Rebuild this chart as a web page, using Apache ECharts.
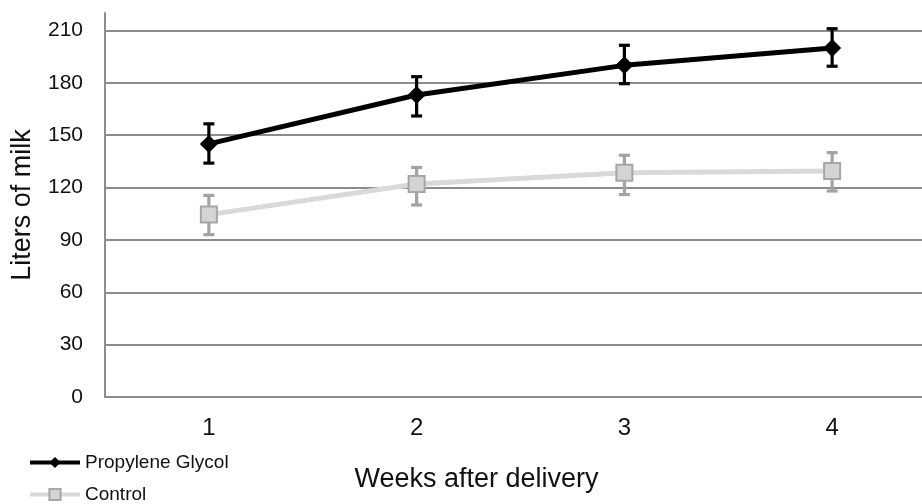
<!DOCTYPE html>
<html>
<head>
<meta charset="utf-8">
<script src="https://cdn.jsdelivr.net/npm/echarts@6/dist/echarts.min.js"></script>
<style>html,body{margin:0;padding:0;background:#fff;overflow:hidden;width:922px;height:504px}#c{width:936px;height:504px}</style>
</head>
<body>
<div id="c"></div>
<script>
const weeks = ['1', '2', '3', '4'];
const pgMean = [145, 173, 190, 200];
const pgLow = [134, 161, 179.5, 189.5];
const pgHigh = [156.5, 183.5, 201.5, 211];
const ctrlMean = [104.5, 122, 128.5, 129.5];
const ctrlLow = [93, 110, 116, 118];
const ctrlHigh = [115.5, 131.5, 138.5, 140];

function errData(low, high) {
  return weeks.map((w, i) => [i, low[i], high[i]]);
}
function errRender(color) {
  return function (params, api) {
    const x = api.value(0);
    const lo = api.coord([x, api.value(1)]);
    const hi = api.coord([x, api.value(2)]);
    const hw = 5.5;
    const st = { stroke: color, lineWidth: 3.2 };
    return {
      type: 'group',
      children: [
        { type: 'line', shape: { x1: lo[0], y1: lo[1], x2: hi[0], y2: hi[1] }, style: st },
        { type: 'line', shape: { x1: lo[0] - hw, y1: lo[1], x2: lo[0] + hw, y2: lo[1] }, style: st },
        { type: 'line', shape: { x1: hi[0] - hw, y1: hi[1], x2: hi[0] + hw, y2: hi[1] }, style: st }
      ]
    };
  };
}

const chart = echarts.init(document.getElementById('c'));
chart.setOption({
  animation: false,
  textStyle: { fontFamily: 'Liberation Sans, Arial, sans-serif' },
  grid: { left: 105, right: 0, top: 13, height: 384, containLabel: false },
  xAxis: {
    type: 'category',
    data: weeks,
    boundaryGap: true,
    axisLine: { lineStyle: { color: '#8c8c8c', width: 2 } },
    axisTick: { show: false },
    axisLabel: { color: '#111', fontSize: 24, margin: 19 },
    name: 'Weeks after delivery',
    nameLocation: 'middle',
    nameGap: 69,
    nameTextStyle: { color: '#111', fontSize: 27, padding: [0, 88, 0, 0] }
  },
  yAxis: {
    type: 'value',
    min: 0,
    max: 220,
    interval: 30,
    axisLine: { show: true, lineStyle: { color: '#8c8c8c', width: 2 } },
    axisTick: { show: false },
    axisLabel: { color: '#111', fontSize: 21, margin: 22, showMaxLabel: false },
    splitLine: { show: true, showMaxLine: false, lineStyle: { color: '#8c8c8c', width: 2 } },
    name: 'Liters of milk',
    nameLocation: 'middle',
    nameGap: 69,
    nameTextStyle: { color: '#111', fontSize: 27 }
  },
  legend: {
    orient: 'vertical',
    left: 28,
    top: 453,
    padding: 0,
    itemWidth: 50,
    itemHeight: 14,
    itemGap: 13,
    lineStyle: { width: 4 },
    textStyle: { color: '#111', fontSize: 19 },
    data: ['Propylene Glycol', 'Control']
  },
  series: [
    {
      name: 'Control',
      type: 'line',
      data: ctrlMean,
      symbol: 'rect',
      symbolSize: 16,
      lineStyle: { color: '#d9d9d9', width: 5 },
      itemStyle: { color: '#d4d4d4', borderColor: '#a6a6a6', borderWidth: 2 },
      z: 3
    },
    {
      name: 'ControlErr',
      type: 'custom',
      data: errData(ctrlLow, ctrlHigh),
      renderItem: errRender('#a3a3a3'),
      z: 2
    },
    {
      name: 'Propylene Glycol',
      type: 'line',
      data: pgMean,
      symbol: 'diamond',
      symbolSize: 18,
      lineStyle: { color: '#000', width: 5 },
      itemStyle: { color: '#000' },
      z: 5
    },
    {
      name: 'PGErr',
      type: 'custom',
      data: errData(pgLow, pgHigh),
      renderItem: errRender('#000'),
      z: 4
    }
  ]
});
</script>
</body>
</html>
